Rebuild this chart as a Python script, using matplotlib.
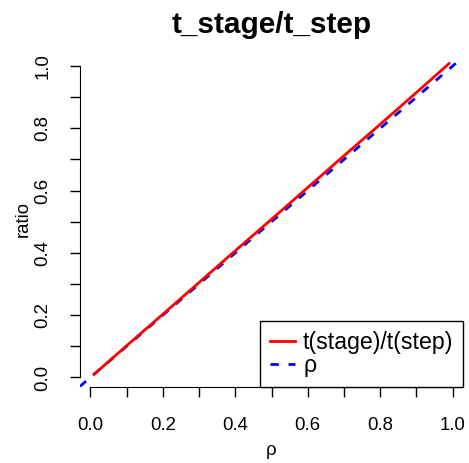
import matplotlib
matplotlib.use("Agg")
import matplotlib.pyplot as plt

# ratio of stage time to step time, against rho
rho = [0.01, 0.1, 0.2, 0.3, 0.4, 0.5, 0.6, 0.7, 0.8, 0.9, 0.99]
ratio = [0.01, 0.102, 0.203, 0.305, 0.407, 0.508, 0.61, 0.712, 0.813, 0.915, 1.008]

ticks = [0.0, 0.1, 0.2, 0.3, 0.4, 0.5, 0.6, 0.7, 0.8, 0.9, 1.0]
ticklabels = ['0.0', '', '0.2', '', '0.4', '', '0.6', '', '0.8', '', '1.0']

plt.rcParams['font.family'] = ['Liberation Sans', 'DejaVu Sans']

W, H = 469, 463
fig = plt.figure(figsize=(W / 100, H / 100), dpi=100)
l, r, t, b = 79.8, 463.2, 50.5, 386.8
ax = fig.add_axes([l / W, 1 - b / H, (r - l) / W, (b - t) / H])

ax.plot(rho, ratio, color='red', lw=2, label='t(stage)/t(step)', zorder=3)
ax.axline((0, 0), slope=1, color='blue', lw=2, ls=(0, (3, 3.5)), label='ρ', zorder=2)

ax.set_xlim(-0.0292, 1.0292)
ax.set_ylim(-0.03, 1.05)

for s in ['top', 'right']:
    ax.spines[s].set_visible(False)
ax.spines['left'].set_bounds(0, 1)
ax.spines['bottom'].set_bounds(0, 1)

ax.set_xticks(ticks)
ax.set_xticklabels(ticklabels)
ax.set_yticks(ticks)
ax.set_yticklabels(ticklabels, rotation=90, va='center')
ax.tick_params(length=7, width=1, labelsize=13.4)
ax.tick_params(axis='x', pad=14.5)
ax.tick_params(axis='y', pad=13.5)

ax.set_xlabel('ρ', fontsize=13.4, labelpad=6)
ax.set_ylabel('ratio', fontsize=13.4, labelpad=2)
ax.set_title('t_stage/t_step', fontsize=21.4, fontweight='bold', pad=12.4)

leg = ax.legend(loc='lower right', bbox_to_anchor=(1.0, 0.0), borderaxespad=0,
                fancybox=False, edgecolor='black', framealpha=1, fontsize=16.7,
                handlelength=1.08, handletextpad=0.35, labelspacing=0.0,
                borderpad=0.42)
leg.get_frame().set_linewidth(1)

fig.savefig('out.png', dpi=100)
